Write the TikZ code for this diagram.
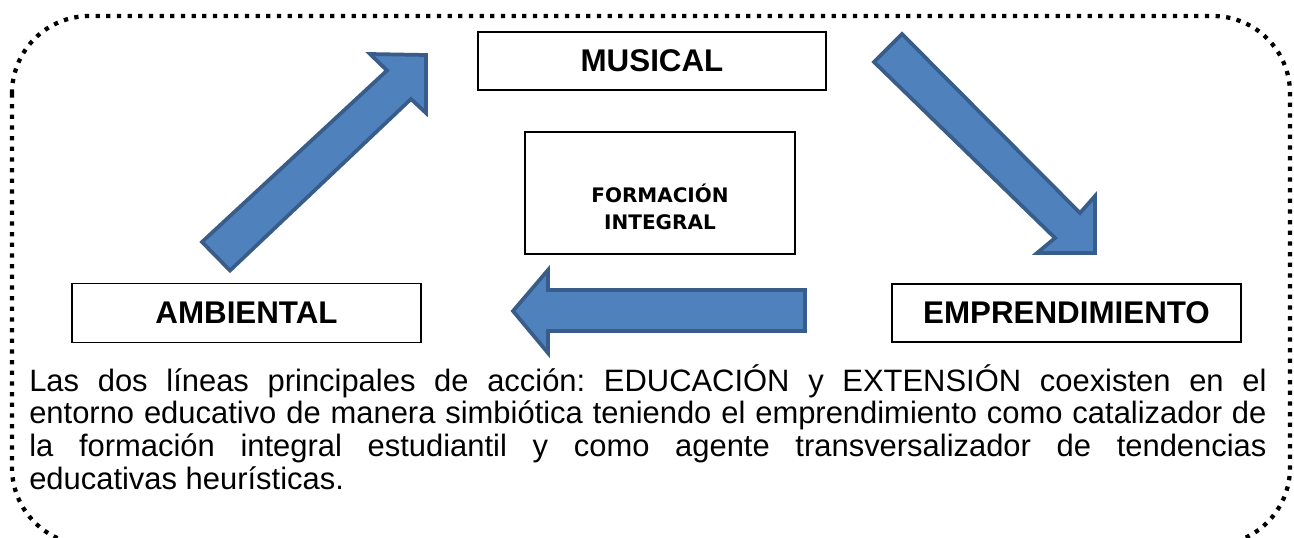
\documentclass[tikz,border=0pt]{standalone}
\usepackage{fontspec}
\setmainfont{Liberation Sans}
\newfontfamily\verd{DejaVu Sans}
\definecolor{arrowfill}{HTML}{4F81BD}
\definecolor{arrowline}{HTML}{385D8A}
\tikzset{
  frameline/.style={line width=3.2pt, dash pattern=on 3.2pt off 4.8pt, rounded corners=58pt},
  lbl/.style={draw=black, line width=1.3pt, inner sep=0pt,
    font=\bfseries\fontsize{23.5}{28}\selectfont},
  plainbox/.style={draw=black, line width=1.3pt, inner sep=0pt},
  barrow/.style={fill=arrowfill, draw=arrowline, line width=2.8pt, line join=miter}
}
\begin{document}
\begin{tikzpicture}[x=0.75pt,y=-0.75pt]
\useasboundingbox (0,0) rectangle (1294,537);
\clip (0,0) rectangle (1294,537);
% dotted frame
\draw[frameline] (12,16) rectangle (1290,545);
% boxes
\node[lbl, minimum width={348*0.75pt}, minimum height={58*0.75pt}] (mus) at (652,61) {MUSICAL};
\node[lbl, minimum width={349*0.75pt}, minimum height={59*0.75pt}] (amb) at (246.5,313) {AMBIENTAL};
\node[lbl, minimum width={349*0.75pt}, minimum height={58*0.75pt}] (emp) at (1066.5,313) {EMPRENDIMIENTO};
\node[plainbox, minimum width={270*0.75pt}, minimum height={122*0.75pt}] (form) at (660,193) {};
\node[font=\verd\bfseries\fontsize{15}{20}\selectfont, align=center, inner sep=0pt] (formtxt) at (660,207) {FORMACIÓN\\INTEGRAL};
% block arrows
\draw[barrow] (202,242) -- (387,70.5) -- (370,54) -- (426,55) -- (426,113) -- (411,99) -- (230,270.5) -- cycle;
\draw[barrow] (874,62) -- (902,34) -- (1080,213) -- (1095,196) -- (1095,253) -- (1037,253) -- (1055,238) -- cycle;
\draw[barrow] (513,311) -- (548,270) -- (548,290) -- (805,290) -- (805,331) -- (548,331) -- (548,353) -- cycle;
% paragraph
\node[anchor=base west, inner sep=0pt] (txt) at (29,391) {\parbox[t]{928pt}{\fontsize{23.2}{24.5}\selectfont\frenchspacing\tolerance=10000\hyphenpenalty=10000
Las dos líneas principales de acción: EDUCACIÓN y EXTENSIÓN coexisten en el\linebreak
entorno educativo de manera simbiótica teniendo el emprendimiento como catalizador de\linebreak
la formación integral estudiantil y como agente transversalizador de tendencias\linebreak
educativas heurísticas.}};
\end{tikzpicture}
\end{document}
